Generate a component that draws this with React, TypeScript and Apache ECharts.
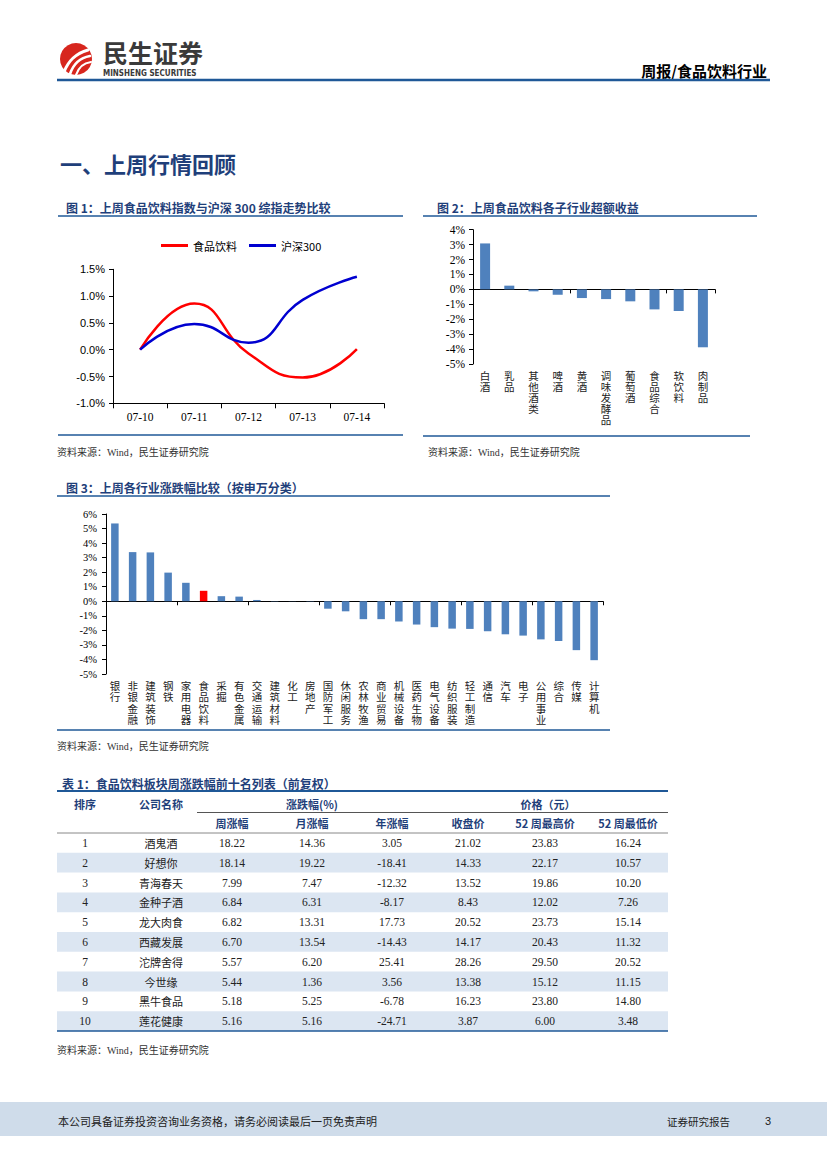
import React, { useEffect, useRef } from 'react';
import * as echarts from 'echarts';

// ---------- Data ----------
const c1Dates = ['07-10', '07-11', '07-12', '07-13', '07-14'];
const c1Food = [0, 0.86, -0.07, -0.52, 0.01];
const c1HS300 = [0, 0.48, 0.13, 0.93, 1.36];
const c1Ticks = [-1.0, -0.5, 0, 0.5, 1.0, 1.5];

const c2Cats = ['白酒', '乳品', '其他酒类', '啤酒', '黄酒', '调味发酵品', '葡萄酒', '食品综合', '软饮料', '肉制品'];
const c2Vals = [3.08, 0.25, -0.13, -0.36, -0.58, -0.65, -0.8, -1.34, -1.45, -3.88];

const c3Cats = ['银行', '非银金融', '建筑装饰', '钢铁', '家用电器', '食品饮料', '采掘', '有色金属', '交通运输', '建筑材料', '化工', '房地产', '国防军工', '休闲服务', '农林牧渔', '商业贸易', '机械设备', '医药生物', '电气设备', '纺织服装', '轻工制造', '通信', '汽车', '电子', '公用事业', '综合', '传媒', '计算机'];
const c3Vals = [5.35, 3.38, 3.36, 1.97, 1.27, 0.72, 0.35, 0.32, 0.09, 0.02, 0.01, -0.02, -0.51, -0.69, -1.23, -1.23, -1.39, -1.6, -1.78, -1.88, -1.9, -2.06, -2.27, -2.36, -2.62, -2.73, -3.36, -4.05];
const c3Highlight = '食品饮料';

const tHeadTop = ['排序', '公司名称', '涨跌幅(%)', '价格（元）'];
const tHeadSub = ['周涨幅', '月涨幅', '年涨幅', '收盘价', '52 周最高价', '52 周最低价'];
const tRank = ['1', '2', '3', '4', '5', '6', '7', '8', '9', '10'];
const tNames = ['酒鬼酒', '好想你', '青海春天', '金种子酒', '龙大肉食', '西藏发展', '沱牌舍得', '今世缘', '黑牛食品', '莲花健康'];
const tWeek = [18.22, 18.14, 7.99, 6.84, 6.82, 6.70, 5.57, 5.44, 5.18, 5.16];
const tMonth = [14.36, 19.22, 7.47, 6.31, 13.31, 13.54, 6.20, 1.36, 5.25, 5.16];
const tYear = [3.05, -18.41, -12.32, -8.17, 17.73, -14.43, 25.41, 3.56, -6.78, -24.71];
const tClose = [21.02, 14.33, 13.52, 8.43, 20.52, 14.17, 28.26, 13.38, 16.23, 3.87];
const tHigh52 = [23.83, 22.17, 19.86, 12.02, 23.73, 20.43, 29.50, 15.12, 23.80, 6.00];
const tLow52 = [16.24, 10.57, 10.20, 7.26, 15.14, 11.32, 20.52, 11.15, 14.80, 3.48];

// ---------- Styles ----------
const LINE_BLUE = '#1f5897';
const TITLE_BLUE = '#1f3f7a';
const BAR_BLUE = '#4f81bd';
const CJK = '"Noto Sans CJK SC", sans-serif';
const SERIF = '"Liberation Serif", "Noto Sans CJK SC", serif';
const SANS = '"Liberation Sans", "Noto Sans CJK SC", sans-serif';

type TO = { align?: string; va?: string; fill?: string; size?: number; family?: string; weight?: string | number };
function txt(x: number, y: number, text: string, o: TO = {}) {
  const align = o.align || 'left';
  const va = o.va || 'middle';
  return {
    type: 'text', x, y, silent: true,
    style: {
      text, fill: o.fill || '#000', fontSize: o.size || 12, fontFamily: o.family || CJK,
      fontWeight: o.weight || 'normal', textAlign: align, textVerticalAlign: va, align, verticalAlign: va,
    },
  };
}
function ln(x1: number, y1: number, x2: number, y2: number, stroke: string, lineWidth: number) {
  return { type: 'line', silent: true, shape: { x1, y1, x2, y2 }, style: { stroke, lineWidth } };
}
function rc(x: number, y: number, width: number, height: number, fill: string) {
  return { type: 'rect', silent: true, shape: { x, y, width, height }, style: { fill } };
}
function bz(x1: number, y1: number, cpx1: number, cpy1: number, cpx2: number, cpy2: number, x2: number, y2: number, w: number) {
  return { type: 'bezierCurve', silent: true, shape: { x1, y1, cpx1, cpy1, cpx2, cpy2, x2, y2 }, style: { stroke: '#fff', lineWidth: w, fill: 'none', lineCap: 'round' } };
}

const vert = (v: string) => v.split('').join('\n');
const pct1 = (v: number) => v.toFixed(1) + '%';
const pct0 = (v: number) => Math.round(v) + '%';

function buildGraphics() {
  const g: any[] = [];
  // header logo
  g.push({ type: 'circle', silent: true, shape: { cx: 76, cy: 59, r: 16 }, style: { fill: '#d7261e' } });
  g.push(bz(64, 72, 68, 62, 74, 54, 88, 50, 3));
  g.push(bz(70, 74, 73, 65, 79, 58, 90, 56, 2.6));
  g.push(bz(76, 75, 78, 69, 83, 63, 91, 62, 2.2));
  g.push(txt(103, 52, '民生证券', { size: 25, weight: 'bold', fill: '#3a3a3a' }));
  g.push(txt(103, 73, 'MINSHENG SECURITIES', { size: 8, weight: 'bold', fill: '#3a3a3a', family: '"DejaVu Sans Condensed", "DejaVu Sans", sans-serif' }));
  g.push(txt(767, 70, '周报/食品饮料行业', { size: 15, weight: 'bold', align: 'right' }));
  g.push(ln(57, 80, 770, 80, LINE_BLUE, 2.5));

  // section title
  g.push(txt(60, 163, '一、上周行情回顾', { size: 22, weight: 'bold', fill: TITLE_BLUE }));

  const src = '资料来源：Wind，民生证券研究院';
  const srcStyle = { size: 10, fill: '#333', family: SERIF };

  // figure 1
  g.push(txt(66, 207, '图 1：上周食品饮料指数与沪深 300 综指走势比较', { size: 12, weight: 'bold', fill: TITLE_BLUE }));
  g.push(ln(58, 216, 403, 216, LINE_BLUE, 1.5));
  g.push(ln(58, 435, 403, 435, LINE_BLUE, 1.5));
  g.push(txt(57, 452, src, srcStyle));

  // figure 2
  g.push(txt(437, 207, '图 2：上周食品饮料各子行业超额收益', { size: 12, weight: 'bold', fill: TITLE_BLUE }));
  g.push(ln(423, 216, 757, 216, LINE_BLUE, 1.5));
  g.push(ln(423, 436, 750, 436, LINE_BLUE, 1.5));
  g.push(txt(428, 452, src, srcStyle));

  // figure 3
  g.push(txt(66, 487, '图 3：上周各行业涨跌幅比较（按申万分类）', { size: 12, weight: 'bold', fill: TITLE_BLUE }));
  g.push(ln(57, 496, 610, 496, LINE_BLUE, 1.5));
  g.push(ln(57, 730, 610, 730, LINE_BLUE, 1.5));
  g.push(txt(57, 746, src, srcStyle));

  // table
  const L = 57, R = 668, rowH = 19.8, top = 833;
  const colX = [85, 161, 232, 312, 392, 468, 545, 628];
  g.push(txt(62, 783, '表 1：食品饮料板块周涨跌幅前十名列表（前复权）', { size: 12, weight: 'bold', fill: TITLE_BLUE }));
  for (let i = 0; i < tRank.length; i++) {
    if (i % 2 === 1) g.push(rc(L, top + rowH * i, R - L, rowH, '#dce6f2'));
  }
  g.push(ln(L, 791, R, 791, LINE_BLUE, 2));
  g.push(ln(197, 812.5, R, 812.5, '#555', 1));
  g.push(ln(L, top, R, top, '#888', 1));
  g.push(ln(L, top + rowH * tRank.length, R, top + rowH * tRank.length, LINE_BLUE, 1.5));
  const hs = { size: 11, weight: 'bold', fill: TITLE_BLUE, align: 'center' };
  g.push(txt(colX[0], 804, tHeadTop[0], hs));
  g.push(txt(colX[1], 804, tHeadTop[1], hs));
  g.push(txt(colX[3], 804, tHeadTop[2], hs));
  g.push(txt(548, 804, tHeadTop[3], hs));
  tHeadSub.forEach((h, j) => g.push(txt(colX[j + 2], 823, h, hs)));
  const cols = [tWeek, tMonth, tYear, tClose, tHigh52, tLow52];
  for (let i = 0; i < tRank.length; i++) {
    const y = top + rowH * (i + 0.5);
    g.push(txt(colX[0], y, tRank[i], { size: 11.5, family: SERIF, fill: '#222', align: 'center' }));
    g.push(txt(colX[1], y, tNames[i], { size: 11, fill: '#222', align: 'center' }));
    cols.forEach((c, j) => g.push(txt(colX[j + 2], y, c[i].toFixed(2), { size: 11.5, family: SERIF, fill: '#222', align: 'center' })));
  }
  g.push(txt(57, 1050, src, srcStyle));

  // footer
  g.push(rc(0, 1102, 827, 34, '#cfdcea'));
  g.push(txt(58, 1121, '本公司具备证券投资咨询业务资格，请务必阅读最后一页免责声明', { size: 11, fill: '#222' }));
  g.push(txt(667, 1121, '证券研究报告', { size: 10.5, fill: '#222' }));
  g.push(txt(765, 1121, '3', { size: 11, fill: '#222', family: SANS }));
  return g;
}

const axisBlack = { show: true, lineStyle: { color: '#000', width: 1 } };

function buildOption() {
  return {
    animation: false,
    backgroundColor: '#fff',
    legend: {
      data: ['食品饮料', '沪深300'],
      left: 156, top: 235, icon: 'rect', itemWidth: 27, itemHeight: 3, itemGap: 12,
      textStyle: { fontSize: 11, fontFamily: CJK, color: '#000' },
    },
    grid: [
      { left: 113, top: 269.3, width: 271, height: 134 },
      { left: 473, top: 229.7, width: 242, height: 134.3 },
      { left: 106, top: 514, width: 497, height: 160 },
    ],
    xAxis: [
      {
        gridIndex: 0, type: 'category', data: c1Dates, boundaryGap: true,
        axisLine: { ...axisBlack, onZero: false },
        axisTick: { show: true, length: 5, lineStyle: { color: '#000' } },
        axisLabel: { margin: 8, fontSize: 11.5, fontFamily: SERIF, color: '#000' },
        splitLine: { show: false },
      },
      {
        gridIndex: 1, type: 'category', data: c2Cats, boundaryGap: true,
        axisLine: { ...axisBlack, onZero: true },
        axisTick: { show: true, length: 4, lineStyle: { color: '#000' } },
        axisLabel: { show: false }, splitLine: { show: false },
      },
      {
        gridIndex: 1, type: 'category', data: c2Cats, position: 'bottom', boundaryGap: true,
        axisLine: { show: false, onZero: false }, axisTick: { show: false },
        axisLabel: { interval: 0, margin: 6, fontSize: 10.5, lineHeight: 11, fontFamily: CJK, color: '#222', formatter: vert, verticalAlign: 'top' },
        splitLine: { show: false },
      },
      {
        gridIndex: 2, type: 'category', data: c3Cats, boundaryGap: true,
        axisLine: { ...axisBlack, onZero: true },
        axisTick: { show: true, length: 4, lineStyle: { color: '#000' } },
        axisLabel: { show: false }, splitLine: { show: false },
      },
      {
        gridIndex: 2, type: 'category', data: c3Cats, position: 'bottom', boundaryGap: true,
        axisLine: { show: false, onZero: false }, axisTick: { show: false },
        axisLabel: { interval: 0, margin: 6, fontSize: 10.5, lineHeight: 11.3, fontFamily: CJK, color: '#222', formatter: vert, verticalAlign: 'top' },
        splitLine: { show: false },
      },
    ],
    yAxis: [
      {
        gridIndex: 0, type: 'value', min: c1Ticks[0], max: c1Ticks[c1Ticks.length - 1], interval: 0.5,
        axisLine: axisBlack, axisTick: { show: true, length: 4, lineStyle: { color: '#000' } },
        axisLabel: { margin: 8, fontSize: 11, fontFamily: SANS, color: '#000', formatter: pct1 },
        splitLine: { show: false },
      },
      {
        gridIndex: 1, type: 'value', min: -5, max: 4, interval: 1,
        axisLine: axisBlack, axisTick: { show: true, length: 4, lineStyle: { color: '#000' } },
        axisLabel: { margin: 8, fontSize: 11.5, fontFamily: SERIF, color: '#000', formatter: pct0 },
        splitLine: { show: false },
      },
      {
        gridIndex: 2, type: 'value', min: -5, max: 6, interval: 1,
        axisLine: axisBlack, axisTick: { show: true, length: 4, lineStyle: { color: '#000' } },
        axisLabel: { margin: 9, fontSize: 10.5, fontFamily: SERIF, color: '#000', formatter: pct0 },
        splitLine: { show: false },
      },
    ],
    series: [
      {
        name: '食品饮料', type: 'line', xAxisIndex: 0, yAxisIndex: 0, data: c1Food, smooth: 0.5,
        showSymbol: false, symbol: 'none', color: '#ff0000', lineStyle: { color: '#ff0000', width: 2.5 },
      },
      {
        name: '沪深300', type: 'line', xAxisIndex: 0, yAxisIndex: 0, data: c1HS300, smooth: 0.5,
        showSymbol: false, symbol: 'none', color: '#0000d0', lineStyle: { color: '#0000d0', width: 2.5 },
      },
      {
        name: 'c2', type: 'bar', xAxisIndex: 1, yAxisIndex: 1, data: c2Vals, barWidth: 10,
        itemStyle: { color: BAR_BLUE },
      },
      {
        name: 'c3', type: 'bar', xAxisIndex: 3, yAxisIndex: 2, barWidth: 7.5,
        data: c3Vals.map((v, i) => (c3Cats[i] === c3Highlight ? { value: v, itemStyle: { color: '#ff0000' } } : v)),
        itemStyle: { color: BAR_BLUE },
      },
    ],
    graphic: { elements: buildGraphics() },
  };
}

export default function App() {
  const ref = useRef<HTMLDivElement>(null);
  useEffect(() => {
    if (!ref.current) return;
    const chart = echarts.init(ref.current, null, { renderer: 'svg', width: 827, height: 1169 });
    chart.setOption(buildOption() as any);
    return () => chart.dispose();
  }, []);
  return <div ref={ref} style={{ position: 'absolute', left: 0, top: 0, width: 827, height: 1169 }} />;
}
